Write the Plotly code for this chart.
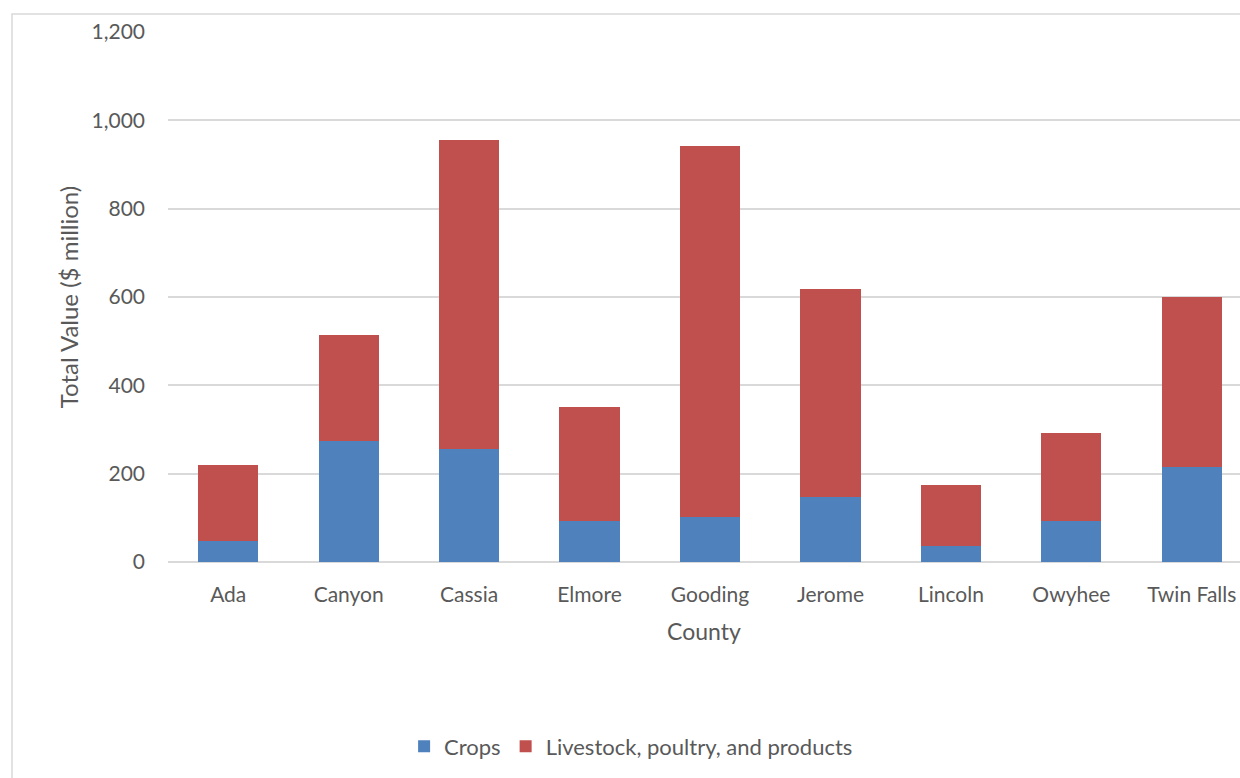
import plotly.graph_objects as go

counties = ["Ada", "Canyon", "Cassia", "Elmore", "Gooding", "Jerome", "Lincoln", "Owyhee", "Twin Falls"]
crops = [47, 274, 256, 92, 101, 147, 37, 92, 215]
livestock = [172, 241, 699, 259, 841, 472, 137, 200, 386]
y_ticks = [0, 200, 400, 600, 800, 1000, 1200]
y_tick_text = ["0", "200", "400", "600", "800", "1,000", "1,200"]

BLUE = "#4F81BD"
RED = "#C0504D"
TEXT = "#595959"
GRID = "#D9D9D9"
FONT = "Lato, Open Sans, sans-serif"

fig = go.Figure()
fig.add_trace(go.Bar(x=counties, y=crops, name="Crops", marker_color=BLUE, marker_line_width=0))
fig.add_trace(go.Bar(x=counties, y=livestock, name="Livestock, poultry, and products",
                     marker_color=RED, marker_line_width=0))

W, H = 1240, 778
L, T, B = 168, 32, 216
plot_w = W - L
plot_h = H - T - B

# chart-area border, running off the right and bottom edges
fig.add_shape(type="rect", xref="paper", yref="paper",
              x0=(12 - L) / plot_w, x1=1.1,
              y0=-1.0, y1=(H - B - 14) / plot_h,
              line=dict(color=GRID, width=1.5), fillcolor="rgba(0,0,0,0)", layer="below")

fig.update_layout(
    width=W, height=H,
    margin=dict(l=L, r=0, t=T, b=B),
    barmode="stack", bargap=0.5,
    plot_bgcolor="white", paper_bgcolor="white",
    font=dict(family=FONT, color=TEXT, size=21),
    showlegend=True,
    legend=dict(orientation="h", x=0.432, xanchor="center", y=-0.348, yanchor="middle",
                font=dict(size=22, color=TEXT), itemwidth=30, traceorder="normal",
                itemclick=False),
    xaxis=dict(range=[-0.5, 8.4], showgrid=False, showline=False, ticks="",
               ticklabelstandoff=18,
               tickfont=dict(size=21, color=TEXT),
               title=dict(text="County", font=dict(size=23, color=TEXT), standoff=18)),
    yaxis=dict(range=[0, 1200], tickvals=y_ticks, ticktext=y_tick_text,
               showgrid=True, gridcolor=GRID, gridwidth=1.5,
               zeroline=True, zerolinecolor=GRID, zerolinewidth=1.5,
               showline=False, ticks="", ticklabelstandoff=22,
               tickfont=dict(size=21, color=TEXT),
               title=dict(text="Total Value ($ million)", font=dict(size=24, color=TEXT), standoff=6)),
)

fig.write_html("out.html")
